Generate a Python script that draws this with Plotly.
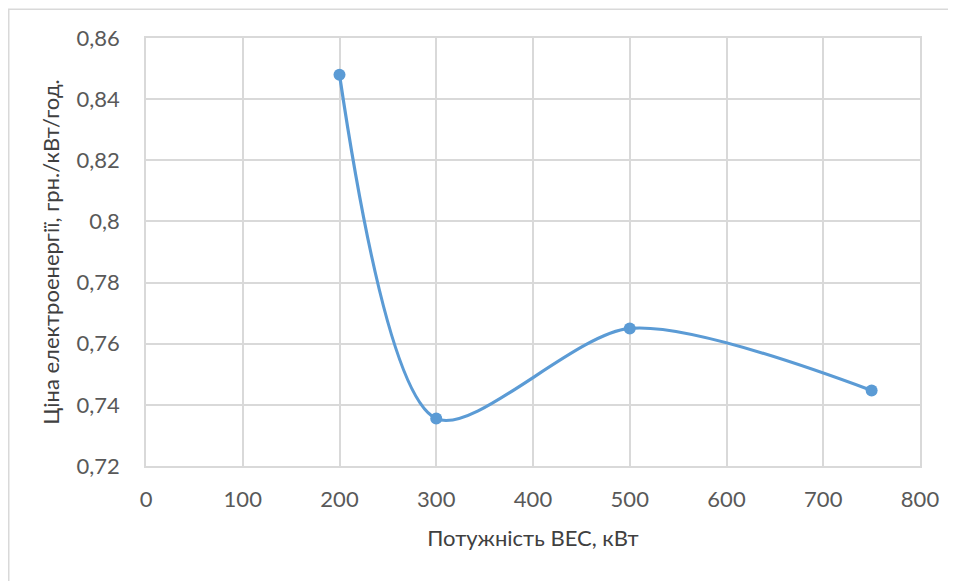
import plotly.graph_objects as go

# Data
power_kw = [200, 300, 500, 750]
price = [0.848, 0.7355, 0.765, 0.7447]

x_ticks = [0, 100, 200, 300, 400, 500, 600, 700, 800]
y_ticks = [0.72, 0.74, 0.76, 0.78, 0.80, 0.82, 0.84, 0.86]
y_tick_labels = ["0,72", "0,74", "0,76", "0,78", "0,8", "0,82", "0,84", "0,86"]

x_title = "Потужність ВЕС, кВт"
y_title = "Ціна електроенергії, грн./кВт/год."

W, H = 956, 581
L, R, T, B = 138, 44, 30, 123
pw, ph = W - L - R, H - T - B

FONT = "Lato, Carlito, 'Open Sans', sans-serif"
grid = "#d9d9d9"

fig = go.Figure()
fig.add_trace(go.Scatter(
    x=power_kw, y=price, mode="lines+markers",
    line=dict(color="#5b9bd5", width=3.2, shape="spline", smoothing=0.8),
    marker=dict(color="#5b9bd5", size=12),
    showlegend=False, hoverinfo="x+y",
))

def px_to_paper_x(px):
    return (px - L) / pw

def px_to_paper_y(py):
    return 1 - (py - T) / ph

# outer chart border (extends past right/bottom edge like the cropped original)
fig.add_shape(type="rect", xref="paper", yref="paper",
              x0=px_to_paper_x(0.75), x1=px_to_paper_x(W + 20),
              y0=px_to_paper_y(H + 20), y1=px_to_paper_y(1.25),
              line=dict(color="#d9d9d9", width=1.5), fillcolor="rgba(0,0,0,0)",
              layer="below")

fig.update_layout(
    width=W, height=H,
    margin=dict(l=L, r=R, t=T, b=B, pad=0),
    paper_bgcolor="white", plot_bgcolor="white",
    font=dict(family=FONT, color="#595959", size=22),
)
fig.update_xaxes(
    range=[0, 800], tickvals=x_ticks, showgrid=True, gridcolor=grid, gridwidth=1.5,
    showline=True, linecolor=grid, linewidth=1.5, mirror=True, zeroline=False,
    ticks="outside", ticklen=13, tickcolor="rgba(0,0,0,0)",
    tickfont=dict(size=22, color="#595959"),
    title=dict(text=x_title, font=dict(size=22, color="#404040"), standoff=19),
)
fig.update_yaxes(
    range=[0.72, 0.86], tickvals=y_ticks, ticktext=y_tick_labels,
    showgrid=True, gridcolor=grid, gridwidth=1.5,
    showline=True, linecolor=grid, linewidth=1.5, mirror=True, zeroline=False,
    ticks="outside", ticklen=20, tickcolor="rgba(0,0,0,0)",
    tickfont=dict(size=22, color="#595959"),
    title=dict(text=y_title, font=dict(size=22, color="#404040"), standoff=11),
)

fig.write_html("out.html")
